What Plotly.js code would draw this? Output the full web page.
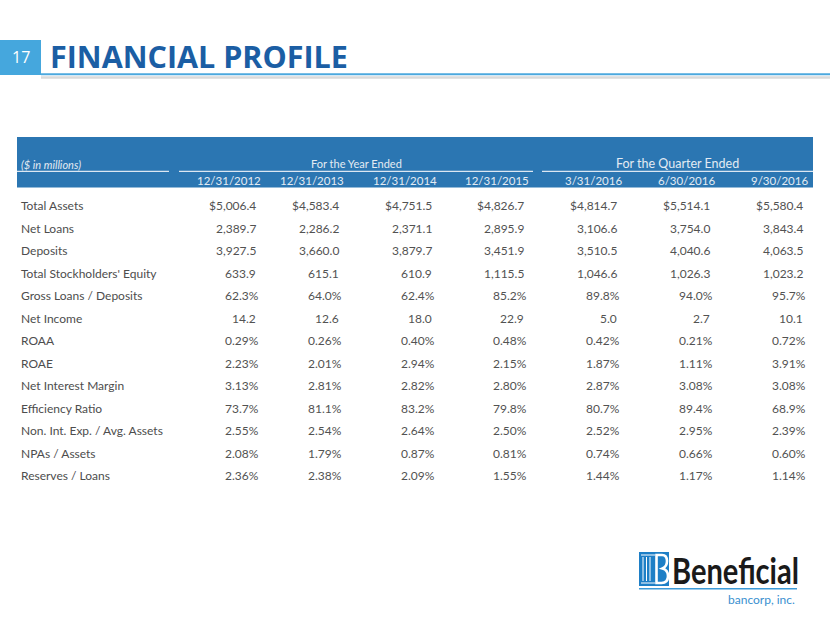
<!DOCTYPE html>
<html>
<head>
<meta charset="utf-8">
<script src="https://cdn.plot.ly/plotly-3.0.1.min.js"></script>
<style>html,body{margin:0;padding:0;background:#fff;}#chart{width:830px;height:623px;}</style>
</head>
<body>
<div id="chart"></div>
<script>
// ---- data ----
var rowLabels = ["Total Assets", "Net Loans", "Deposits", "Total Stockholders' Equity",
  "Gross Loans / Deposits", "Net Income", "ROAA", "ROAE", "Net Interest Margin",
  "Efficiency Ratio", "Non. Int. Exp. / Avg. Assets", "NPAs / Assets", "Reserves / Loans"];
var rowFormats = ["dollar", "num", "num", "num", "pct1", "num", "pct2", "pct2", "pct2", "pct1", "pct2", "pct2", "pct2"];
var periods = ["12/31/2012", "12/31/2013", "12/31/2014", "12/31/2015", "3/31/2016", "6/30/2016", "9/30/2016"];
var groupLabels = ["For the Year Ended", "For the Quarter Ended"];
var v2012 = [5006.4, 2389.7, 3927.5, 633.9, 62.3, 14.2, 0.29, 2.23, 3.13, 73.7, 2.55, 2.08, 2.36];
var v2013 = [4583.4, 2286.2, 3660.0, 615.1, 64.0, 12.6, 0.26, 2.01, 2.81, 81.1, 2.54, 1.79, 2.38];
var v2014 = [4751.5, 2371.1, 3879.7, 610.9, 62.4, 18.0, 0.40, 2.94, 2.82, 83.2, 2.64, 0.87, 2.09];
var v2015 = [4826.7, 2895.9, 3451.9, 1115.5, 85.2, 22.9, 0.48, 2.15, 2.80, 79.8, 2.50, 0.81, 1.55];
var vQ1_2016 = [4814.7, 3106.6, 3510.5, 1046.6, 89.8, 5.0, 0.42, 1.87, 2.87, 80.7, 2.52, 0.74, 1.44];
var vQ2_2016 = [5514.1, 3754.0, 4040.6, 1026.3, 94.0, 2.7, 0.21, 1.11, 3.08, 89.4, 2.95, 0.66, 1.17];
var vQ3_2016 = [5580.4, 3843.4, 4063.5, 1023.2, 95.7, 10.1, 0.72, 3.91, 3.08, 68.9, 2.39, 0.60, 1.14];
var series = [v2012, v2013, v2014, v2015, vQ1_2016, vQ2_2016, vQ3_2016];

// ---- layout constants (positions/styles) ----
var colRight = [262, 345, 438, 530, 623, 716, 809];
var rowTop = 205.7, rowStep = 22.52;
var labelFont = {family: "Lato, 'Open Sans', sans-serif", size: 12, color: "#4d4d4d"};
var numFont = {family: "Lato, sans-serif", size: 12, color: "#525252"};
var hdrColor = "#2b76b2";
var hdrText = "#e3ebf3";

function fmt(v, f) {
  if (f === "pct1") return v.toFixed(1) + "%";
  if (f === "pct2") return v.toFixed(2) + "%";
  var s = v.toLocaleString("en-US", {minimumFractionDigits: 1, maximumFractionDigits: 1});
  return (f === "dollar" ? "$" : "") + s;
}

var ann = [];
var shapes = [];

// title
shapes.push({type: "rect", xref: "x", yref: "y", x0: 0, x1: 41, y0: 40, y1: 75, fillcolor: "#45a7dd", line: {width: 0}});
shapes.push({type: "line", xref: "x", yref: "y", x0: 41, x1: 830, y0: 77.5, y1: 77.5, line: {color: "#dadada", width: 2.5}});
shapes.push({type: "line", xref: "x", yref: "y", x0: 41, x1: 830, y0: 74.2, y1: 74.2, line: {color: "#4ca8de", width: 2}});
ann.push({x: 21, y: 57, xref: "x", yref: "y", text: "17", showarrow: false, xanchor: "center", yanchor: "middle",
  font: {family: "'Open Sans', sans-serif", size: 16, color: "#ffffff"}});
ann.push({x: 48, y: 56, xref: "x", yref: "y", text: "<b>FINANCIAL PROFILE</b>", showarrow: false, xanchor: "left", yanchor: "middle",
  font: {family: "'Open Sans', sans-serif", size: 30.5, color: "#1b5ea4"}});

// header band
shapes.push({type: "rect", xref: "x", yref: "y", x0: 17, x1: 813, y0: 137, y1: 187.5, fillcolor: hdrColor, line: {width: 0}});
[[17, 169], [179, 533], [542, 813]].forEach(function (s) {
  shapes.push({type: "line", xref: "x", yref: "y", x0: s[0], x1: s[1], y0: 171.3, y1: 171.3, line: {color: "#dce7f2", width: 1.2}});
});
ann.push({x: 19, y: 164, xref: "x", yref: "y", text: "<i>($ in millions)</i>", showarrow: false, xanchor: "left", yanchor: "middle",
  font: {family: "Lato, sans-serif", size: 11, color: hdrText}});
ann.push({x: 356, y: 163.5, xref: "x", yref: "y", text: groupLabels[0], showarrow: false, xanchor: "center", yanchor: "middle",
  font: {family: "Lato, sans-serif", size: 11, color: hdrText}});
ann.push({x: 677, y: 163, xref: "x", yref: "y", text: groupLabels[1], showarrow: false, xanchor: "center", yanchor: "middle",
  font: {family: "Lato, sans-serif", size: 12.5, color: hdrText}});
periods.forEach(function (p, j) {
  ann.push({x: colRight[j] + 1, y: 180.5, xref: "x", yref: "y", text: p, showarrow: false, xanchor: "right", yanchor: "middle",
    font: {family: "Lato, sans-serif", size: 11.5, color: hdrText}});
});

// body
rowLabels.forEach(function (lab, i) {
  var y = rowTop + i * rowStep;
  ann.push({x: 19, y: y, xref: "x", yref: "y", text: lab, showarrow: false, xanchor: "left", yanchor: "middle", font: labelFont});
  series.forEach(function (col, j) {
    var f = rowFormats[i];
    var isPct = f.indexOf("pct") === 0;
    ann.push({x: colRight[j] + 1 - (isPct ? 2 : 5), y: y, xref: "x", yref: "y", text: fmt(col[i], f), showarrow: false,
      xanchor: "right", yanchor: "middle", font: numFont});
  });
});

// logo
shapes.push({type: "rect", xref: "x", yref: "y", x0: 639, x1: 669, y0: 552, y1: 586, fillcolor: "#1e7fc6", line: {width: 0}});
[643, 646.5, 650].forEach(function (x) {
  shapes.push({type: "line", xref: "x", yref: "y", x0: x, x1: x, y0: 557, y1: 581, line: {color: "#ffffff", width: 1}});
});
shapes.push({type: "line", xref: "x", yref: "y", x0: 641, x1: 655, y0: 555, y1: 555, line: {color: "#ffffff", width: 1}});
shapes.push({type: "line", xref: "x", yref: "y", x0: 641, x1: 655, y0: 583, y1: 583, line: {color: "#ffffff", width: 1}});
shapes.push({type: "path", xref: "x", yref: "y",
  path: "M 656.5 555 L 662 555 Q 667 555 667 561 Q 667 566.5 662.5 568.5 Q 668 570 668 576 Q 668 583 661.5 583 L 656.5 583 Z",
  fillcolor: "rgba(0,0,0,0)", line: {color: "#ffffff", width: 2.6}});
shapes.push({type: "line", xref: "x", yref: "y", x0: 639, x1: 797, y0: 588.7, y1: 588.7, line: {color: "#3c9ad8", width: 1.5}});
ann.push({x: 670, y: 570, xref: "x", yref: "y", text: "<b>Beneficial</b>", showarrow: false, xanchor: "left", yanchor: "middle",
  font: {family: "Lato, sans-serif", size: 36, color: "#1a1a1a"}});
ann.push({x: 797, y: 599.5, xref: "x", yref: "y", text: "bancorp, inc.", showarrow: false, xanchor: "right", yanchor: "middle",
  font: {family: "Lato, sans-serif", size: 12, color: "#3a8fcf"}});

var layout = {
  width: 830, height: 623,
  margin: {l: 0, r: 0, t: 0, b: 0},
  paper_bgcolor: "#ffffff", plot_bgcolor: "#ffffff",
  showlegend: false,
  xaxis: {range: [0, 830], visible: false, fixedrange: true},
  yaxis: {range: [623, 0], visible: false, fixedrange: true},
  shapes: shapes,
  annotations: ann
};
Plotly.newPlot("chart", [{x: [], y: [], type: "scatter", mode: "markers", hoverinfo: "skip"}], layout, {displayModeBar: false, staticPlot: true})
  .then(function (gd) {
    var texts = gd.querySelectorAll("text.annotation-text");
    texts.forEach(function (t) {
      if (t.textContent === "Beneficial") {
        var bb = t.getBBox();
        var targetW = 127;
        var k = targetW / bb.width;
        var x0 = bb.x;
        t.setAttribute("transform", "translate(" + x0 + ",0) scale(" + k + ",1) translate(" + (-x0) + ",0)");
      }
    });
  });
</script>
</body>
</html>
